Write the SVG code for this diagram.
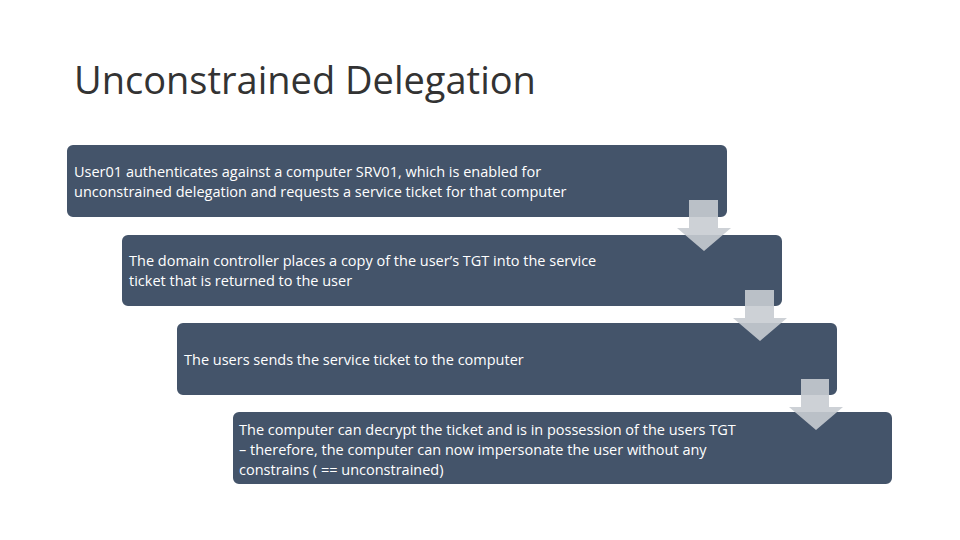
<svg xmlns="http://www.w3.org/2000/svg" width="960" height="540" viewBox="0 0 960 540">
<style>
.box{fill:#44546A;stroke:#ffffff;stroke-width:2}
.t{font-family:"Open Sans","Liberation Sans",sans-serif;font-size:14.5px;fill:#ffffff}
.arr{fill:#c8ccd2;opacity:0.9}
</style>
<rect width="960" height="540" fill="#ffffff"/>
<text x="74" y="94" font-family="Open Sans, Liberation Sans, sans-serif" font-size="38" fill="#333333">Unconstrained Delegation</text>
<g id="node1"><rect class="box" x="66" y="144" width="662" height="74" rx="7"/>
<text class="t" x="74" y="177">User01 authenticates against a computer SRV01, which is enabled for</text>
<text class="t" x="74" y="197">unconstrained delegation and requests a service ticket for that computer</text></g>
<g id="node2"><rect class="box" x="121" y="234" width="662" height="73" rx="7"/>
<text class="t" x="129" y="266">The domain controller places a copy of the user’s TGT into the service</text>
<text class="t" x="129" y="286">ticket that is returned to the user</text></g>
<g id="node3"><rect class="box" x="176" y="322" width="662" height="74" rx="7"/>
<text class="t" x="184" y="365">The users sends the service ticket to the computer</text></g>
<g id="node4"><rect class="box" x="232" y="411" width="661" height="74" rx="7"/>
<text class="t" x="239" y="435">The computer can decrypt the ticket and is in possession of the users TGT</text>
<text class="t" x="239" y="455">– therefore, the computer can now impersonate the user without any</text>
<text class="t" x="239" y="475">constrains ( == unconstrained)</text></g>
<g id="connectors">
<path class="arr" d="M689 200H718V228H731L704 251L677 228H689Z"/>
<path class="arr" d="M745 290H774V318H787L760 341L733 318H745Z"/>
<path class="arr" d="M801 379H829V407H843L816 430L789 407H801Z"/>
</g>
</svg>
